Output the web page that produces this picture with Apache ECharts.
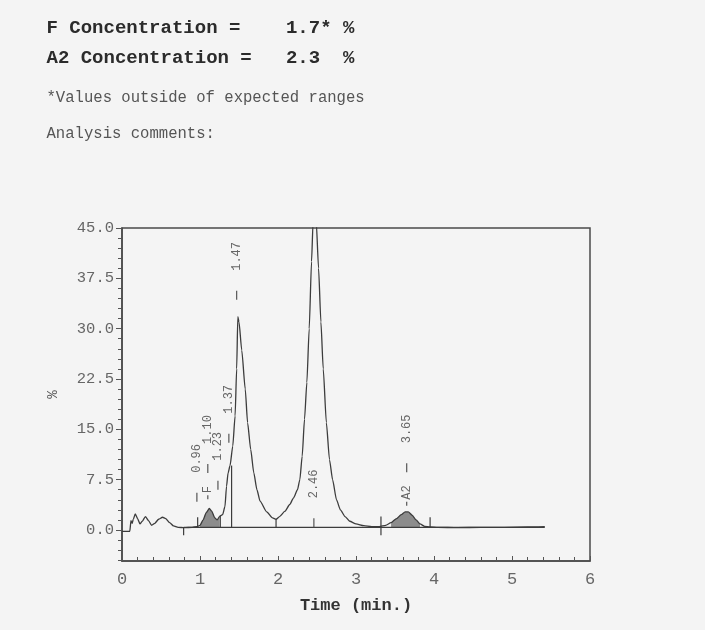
<!DOCTYPE html>
<html><head><meta charset="utf-8">
<script src="https://cdn.jsdelivr.net/npm/echarts@6/dist/echarts.min.js"></script>
<style>html,body{margin:0;padding:0;background:#f4f4f4}#c{width:705px;height:630px}</style>
</head><body><div id="c"></div>
<script>
// ---- data ----
const headerLines = ['F Concentration =    1.7* %', 'A2 Concentration =   2.3  %'];
const noteLines = ['*Values outside of expected ranges', 'Analysis comments:'];
const xAxisTitle = 'Time (min.)';
const yAxisTitle = '%';
const times = [0.00,0.08,0.10,0.115,0.13,0.145,0.17,0.20,0.23,0.26,0.30,0.34,0.38,0.42,0.47,0.52,0.56,0.61,0.66,0.72,0.80,0.90,0.96,
  1.00,1.04,1.08,1.12,1.15,1.19,1.22,1.25,1.29,1.32,1.34,1.36,1.385,1.42,1.45,1.47,1.485,1.50,1.535,1.58,1.61,1.65,1.69,1.73,1.77,1.855,1.93,1.975,
  2.02,2.09,2.15,2.20,2.25,2.28,2.31,2.34,2.37,2.40,2.43,2.45,2.47,2.49,2.52,2.55,2.58,2.62,2.66,2.70,2.75,2.80,2.86,2.92,
  3.00,3.10,3.20,3.30,3.38,3.45,3.52,3.58,3.63,3.67,3.72,3.77,3.82,3.88,3.95,4.05,4.30,4.60,4.90,5.20,5.42];
const signal = [-0.2,-0.2,-0.2,1.4,1.0,1.6,2.4,1.7,0.9,1.3,2.0,1.4,0.7,1.0,1.6,1.9,1.7,1.1,0.6,0.4,0.35,0.4,0.5,
  0.7,1.5,2.6,3.2,2.8,1.8,1.5,2.0,2.3,3.5,6.5,8.5,9.6,12.5,17,24,31.8,31,26.8,21,16,12,8.5,6,4.3,2.7,1.8,1.6,
  2.0,2.8,3.8,4.8,6.0,7.5,11,16.5,22,30,40,46,48,46,39,31,24,16,10.5,7.5,4.5,3.0,2.0,1.3,
  0.9,0.65,0.5,0.5,0.7,1.1,1.7,2.3,2.7,2.7,2.2,1.5,0.9,0.55,0.45,0.4,0.35,0.4,0.4,0.45,0.5];
const yTickValues = [0, 7.5, 15, 22.5, 30, 37.5, 45];
const yMinorTickValues = [-4.5,-3,-1.5,0,1.5,3,4.5,6,7.5,9,10.5,12,13.5,15,16.5,18,19.5,21,22.5,24,25.5,27,28.5,30,31.5,33,34.5,36,37.5,39,40.5,42,43.5,45];
const xTickLabels = [0, 1, 2, 3, 4, 5, 6];
const peakTimes = [0.96, 1.10, 1.23, 1.37, 1.47, 2.46, 3.65];
const peakLabels = ['0.96', '1.10', '1.23', '1.37', '1.47', '2.46', '3.65'];
const peakNames = ['', 'F', '', '', '', '', 'A2'];
const peakAnchors = [4.2, 8.5, 6.0, 13.0, 34.3, 0.4, 8.6];
const baselineLevel = 0.4;
const baselineSpan = [0.79, 5.42];
const boundaryTimes = [0.79, 0.97, 1.26, 1.405, 1.975, 3.32, 3.95];
const boundaryLow = [-0.8, 0.4, 0.4, 0.4, 0.4, -0.8, 0.4];
const boundaryHigh = [0.4, 1.9, 2.2, 9.6, 1.6, 2.0, 1.9];
const shadedRanges = [[1.00, 1.26], [3.40, 3.86]];

// ---- chart ----
const MONO = '"Liberation Mono", "DejaVu Sans Mono", monospace';
const lineColor = '#3c3c3c';
const signalData = times.map((t, i) => [t, signal[i]]);
const smoothVal = 0.2;

const shadedSeries = shadedRanges.map(r => ({
  type: 'line', silent: true, showSymbol: false, smooth: smoothVal, smoothMonotone: 'x',
  data: signalData.filter(p => p[0] >= r[0] && p[0] <= r[1]),
  lineStyle: { width: 0 },
  areaStyle: { origin: baselineLevel, color: '#8c8c8c', opacity: 1 },
  z: 1
}));

const chart = echarts.init(document.getElementById('c'));
chart.setOption({
  backgroundColor: '#f4f4f4',
  animation: false,
  textStyle: { fontFamily: MONO },
  graphic: [
    { type: 'text', x: 46.5, y: 28, style: { text: headerLines[0], font: 'bold 19px ' + MONO, fill: '#2b2b2b', verticalAlign: 'middle' } },
    { type: 'text', x: 46.5, y: 58, style: { text: headerLines[1], font: 'bold 19px ' + MONO, fill: '#2b2b2b', verticalAlign: 'middle' } },
    { type: 'text', x: 46.5, y: 97.5, style: { text: noteLines[0], font: '15.6px ' + MONO, fill: '#555', verticalAlign: 'middle' } },
    { type: 'text', x: 46.5, y: 134, style: { text: noteLines[1], font: '15.6px ' + MONO, fill: '#555', verticalAlign: 'middle' } }
  ],
  grid: { left: 122, right: 115, top: 228, bottom: 69, show: true, borderColor: '#4a4a4a', borderWidth: 1.5, backgroundColor: 'transparent' },
  xAxis: {
    type: 'value', min: 0, max: 6, interval: 1,
    name: xAxisTitle, nameLocation: 'middle', nameGap: 36,
    nameTextStyle: { fontFamily: MONO, fontWeight: 'bold', fontSize: 17, color: '#333' },
    axisLine: { show: true, onZero: false, lineStyle: { color: '#4a4a4a', width: 1.5 } },
    axisTick: { show: true, inside: true, length: 5, lineStyle: { color: '#555' } },
    minorTick: { show: true, splitNumber: 5, length: 4, lineStyle: { color: '#555' } },
    axisLabel: { color: '#666', fontFamily: MONO, fontSize: 17, margin: 10, customValues: xTickLabels, formatter: v => String(v) },
    splitLine: { show: false }
  },
  yAxis: [{
    type: 'value', min: -4.62, max: 45,
    name: yAxisTitle, nameLocation: 'middle', nameGap: 62, nameRotate: 90,
    nameTextStyle: { fontFamily: MONO, fontSize: 14, color: '#555' },
    axisLine: { show: true, onZero: false, lineStyle: { color: '#4a4a4a', width: 1.5 } },
    axisTick: { show: true, length: 6, customValues: yTickValues, lineStyle: { color: '#555' } },
    axisLabel: { color: '#666', fontFamily: MONO, fontSize: 15.5, margin: 8, customValues: yTickValues, formatter: v => v.toFixed(1) },
    splitLine: { show: false }
  }, {
    type: 'value', min: -4.62, max: 45, position: 'left',
    axisLine: { show: false, onZero: false },
    axisTick: { show: true, length: 4, customValues: yMinorTickValues, lineStyle: { color: '#555' } },
    axisLabel: { show: false },
    splitLine: { show: false }
  }],
  series: [
    ...shadedSeries,
    {
      type: 'line', silent: true, showSymbol: false, smooth: smoothVal, smoothMonotone: 'x',
      data: signalData, clip: true,
      lineStyle: { color: lineColor, width: 1.3 }, z: 3
    },
    {
      type: 'line', silent: true, showSymbol: false,
      data: [[baselineSpan[0], baselineLevel], [baselineSpan[1], baselineLevel]],
      lineStyle: { color: lineColor, width: 1.2 }, z: 2
    },
    {
      type: 'custom', silent: true, z: 4,
      data: boundaryTimes.map((t, i) => [t, boundaryLow[i], boundaryHigh[i]]),
      renderItem: (params, api) => {
        const a = api.coord([api.value(0), api.value(1)]);
        const b = api.coord([api.value(0), api.value(2)]);
        return { type: 'line', shape: { x1: a[0], y1: a[1], x2: b[0], y2: b[1] }, style: { stroke: lineColor, lineWidth: 1.2 } };
      }
    },
    {
      type: 'custom', silent: true, z: 5,
      data: peakTimes.map((t, i) => [t, peakAnchors[i], i]),
      renderItem: (params, api) => {
        const idx = api.value(2);
        const p = api.coord([api.value(0), api.value(1)]);
        const x = p[0], y = p[1];
        const color = '#666';
        const children = [
          { type: 'line', shape: { x1: x, y1: y, x2: x, y2: y - 9 }, style: { stroke: '#555', lineWidth: 1.2 } },
          { type: 'text', x: x, y: y - 29, rotation: Math.PI / 2,
            style: { text: peakLabels[idx], fill: color, font: '12px ' + MONO, align: 'left', verticalAlign: 'middle' } }
        ];
        const nm = peakNames[idx];
        if (nm) {
          const len = nm.length * 7.2;
          children.push({ type: 'text', x: x, y: y + 13 + len, rotation: Math.PI / 2,
            style: { text: nm, fill: color, font: '12px ' + MONO, align: 'left', verticalAlign: 'middle' } });
          children.push({ type: 'line', shape: { x1: x, y1: y + 15 + len, x2: x, y2: y + 19 + len }, style: { stroke: '#555', lineWidth: 1.2 } });
        }
        return { type: 'group', children };
      }
    }
  ]
});
</script>
</body></html>
